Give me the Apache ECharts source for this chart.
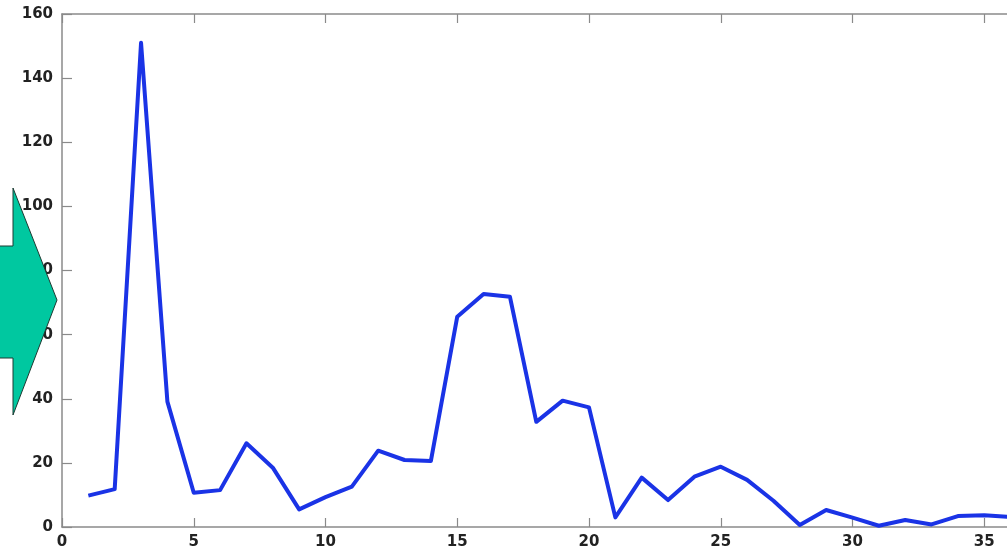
<!DOCTYPE html>
<html>
<head>
<meta charset="utf-8">
<script src="https://cdn.jsdelivr.net/npm/echarts@6/dist/echarts.min.js"></script>
<style>
  html, body { margin: 0; padding: 0; background: #fff; }
  #chart { width: 1007px; height: 547px; }
</style>
</head>
<body>
<div id="chart"></div>
<script>
// Sample index (1..36) and the measured magnitude at each index
const xValues = [1, 2, 3, 4, 5, 6, 7, 8, 9, 10, 11, 12, 13, 14, 15, 16, 17, 18,
                 19, 20, 21, 22, 23, 24, 25, 26, 27, 28, 29, 30, 31, 32, 33, 34, 35, 36];
const yValues = [9.8, 11.8, 151, 39.1, 10.7, 11.5, 26.1, 18.5, 5.5, 9.3, 12.6, 23.8,
                 20.9, 20.6, 65.6, 72.7, 71.8, 32.8, 39.4, 37.3, 3.0, 15.4, 8.4, 15.7,
                 18.8, 14.7, 8.2, 0.6, 5.3, 2.9, 0.4, 2.2, 0.8, 3.4, 3.7, 3.1];

const xAxisMin = 0, xAxisMax = 40, xStep = 5;
const yAxisMin = 0, yAxisMax = 160, yStep = 20;

const points = xValues.map((x, i) => [x, yValues[i]]);

const axisGray = '#8a8a8a';
const labelFont = {
  color: '#222',
  fontFamily: 'DejaVu Sans',
  fontWeight: 'bold',
  fontSize: 15
};

const chart = echarts.init(document.getElementById('chart'), null, { renderer: 'canvas' });

chart.setOption({
  animation: false,
  backgroundColor: '#fff',
  // the plot box runs past the right edge of the page; only 0..~35.9 is in view
  grid: { left: 62, top: 14, width: 1054, height: 513, containLabel: false, outerBoundsMode: 'none' },
  xAxis: [
    {
      type: 'value', position: 'bottom',
      min: xAxisMin, max: xAxisMax, interval: xStep,
      axisLine: { show: true, onZero: false, lineStyle: { color: axisGray, width: 1.5 } },
      axisTick: { show: true, inside: true, length: 9, lineStyle: { color: axisGray, width: 1.2 } },
      axisLabel: Object.assign({ margin: 8 }, labelFont),
      splitLine: { show: false }
    },
    {
      type: 'value', position: 'top',
      min: xAxisMin, max: xAxisMax, interval: xStep,
      axisLine: { show: true, onZero: false, lineStyle: { color: axisGray, width: 1.5 } },
      axisTick: { show: true, inside: true, length: 9, lineStyle: { color: axisGray, width: 1.2 } },
      axisLabel: { show: false },
      splitLine: { show: false }
    }
  ],
  yAxis: {
    type: 'value',
    min: yAxisMin, max: yAxisMax, interval: yStep,
    axisLine: { show: true, lineStyle: { color: axisGray, width: 1.5 } },
    axisTick: { show: true, inside: true, length: 10, lineStyle: { color: axisGray, width: 1.2 } },
    axisLabel: Object.assign({ margin: 9 }, labelFont),
    splitLine: { show: false }
  },
  series: [{
    type: 'line',
    data: points,
    xAxisIndex: 0,
    showSymbol: false,
    lineStyle: { color: '#1a33e6', width: 4, join: 'round' },
    z: 3
  }],
  graphic: [{
    type: 'polygon',
    z: 100,
    shape: {
      points: [[-4, 246], [13, 246], [13, 188], [57, 300], [13, 415], [13, 358], [-4, 358]]
    },
    style: { fill: '#00c8a0', stroke: '#1d3a32', lineWidth: 1 }
  }]
});
</script>
</body>
</html>
